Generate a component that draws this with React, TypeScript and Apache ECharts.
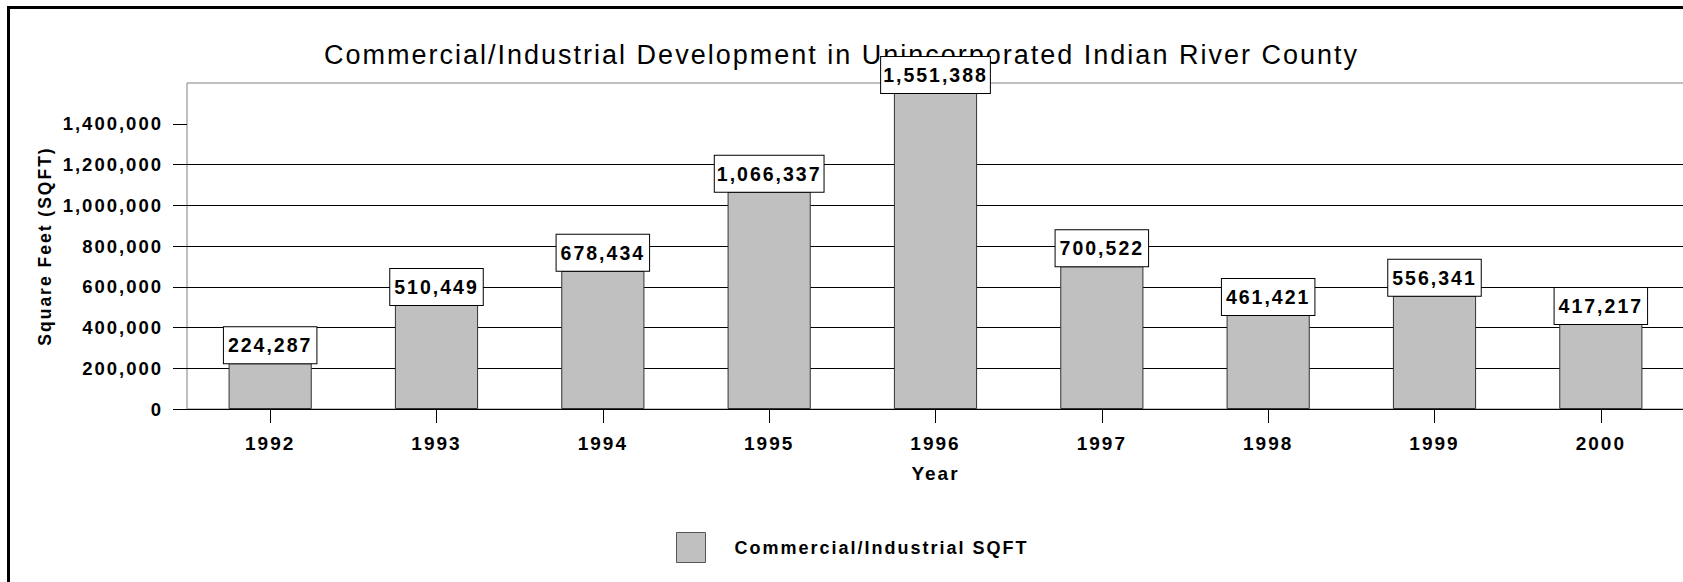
import React, { useEffect, useRef } from 'react';
import * as echarts from 'echarts';

const titleText = 'Commercial/Industrial Development in Unincorporated Indian River County';
const years = ['1992', '1993', '1994', '1995', '1996', '1997', '1998', '1999', '2000'];
const sqft = [224287, 510449, 678434, 1066337, 1551388, 700522, 461421, 556341, 417217];
const yTickValues = [0, 200000, 400000, 600000, 800000, 1000000, 1200000, 1400000];
const yMax = 1600000;
const yStep = 200000;
const seriesName = 'Commercial/Industrial SQFT';
const xName = 'Year';
const yName = 'Square Feet (SQFT)';

const FONT = '"Liberation Sans", Arial, Helvetica, sans-serif';
const fmt = (v: number) => Number(v).toLocaleString('en-US');

export default function App() {
  const ref = useRef<HTMLDivElement>(null);

  useEffect(() => {
    const chart = echarts.init(ref.current!, null, { renderer: 'svg' });
    chart.setOption({
      animation: false,
      backgroundColor: '#ffffff',
      textStyle: { fontFamily: FONT },
      title: {
        text: titleText,
        left: 'center',
        top: 41,
        padding: 0,
        textStyle: { fontFamily: FONT, fontSize: 27, fontWeight: 'normal', color: '#000' },
      },
      legend: {
        left: 676,
        top: 532,
        padding: 0,
        icon: 'rect',
        itemWidth: 29,
        itemHeight: 30,
        itemStyle: { color: '#c0c0c0', borderColor: '#555', borderWidth: 1 },
        textStyle: {
          fontFamily: FONT,
          fontSize: 18,
          fontWeight: 'bold',
          color: '#000',
          padding: [0, 0, 0, 24],
        },
        data: [seriesName],
      },
      grid: {
        left: 187,
        right: -1,
        top: 83,
        bottom: 173,
        show: true,
        borderColor: '#808080',
        borderWidth: 1,
        backgroundColor: 'transparent',
        containLabel: false,
        outerBoundsMode: 'none',
      },
      xAxis: {
        type: 'category',
        data: years,
        name: xName,
        nameLocation: 'middle',
        nameGap: 55,
        nameTextStyle: { fontFamily: FONT, fontSize: 19, fontWeight: 'bold', color: '#000' },
        axisLine: { show: true, lineStyle: { color: '#000', width: 1 } },
        axisTick: { show: true, alignWithLabel: true, length: 14, lineStyle: { color: '#000' } },
        axisLabel: { margin: 25, fontFamily: FONT, fontSize: 19, fontWeight: 'bold', color: '#000' },
        splitLine: { show: false },
      },
      yAxis: {
        type: 'value',
        min: 0,
        max: yMax,
        interval: yStep,
        name: yName,
        nameLocation: 'middle',
        nameGap: 133,
        nameRotate: 90,
        nameTextStyle: { fontFamily: FONT, fontSize: 17.5, fontWeight: 'bold', color: '#000' },
        axisLine: { show: false },
        axisTick: { show: true, length: 14, lineStyle: { color: '#000' }, customValues: yTickValues },
        axisLabel: {
          margin: 24,
          fontFamily: FONT,
          fontSize: 18.5,
          fontWeight: 'bold',
          color: '#000',
          customValues: yTickValues,
          formatter: (v: number) => (v >= yMax ? '' : fmt(v)),
        },
        splitLine: { show: true, showMaxLine: false, lineStyle: { color: '#000', width: 1 } },
      },
      series: [
        {
          type: 'bar',
          name: seriesName,
          data: sqft,
          barWidth: '50%',
          z: 7,
          itemStyle: { color: '#c0c0c0', borderColor: '#333', borderWidth: 1 },
          label: {
            show: true,
            position: 'top',
            distance: 0,
            formatter: (p: any) => fmt(p.value),
            fontFamily: FONT,
            fontSize: 19.5,
            fontWeight: 'bold',
            color: '#000',
            backgroundColor: '#fff',
            borderColor: '#000',
            borderWidth: 1,
            lineHeight: 20,
            padding: [8, 11, 8, 11],
          },
        },
      ],
      graphic: [
        {
          type: 'rect',
          z: 100,
          silent: true,
          shape: { x: 8.5, y: 7.5, width: 1700, height: 600 },
          style: { fill: 'none', stroke: '#000', lineWidth: 3 },
        },
      ],
    });
    return () => chart.dispose();
  }, []);

  return (
    <div
      ref={ref}
      style={{
        position: 'fixed',
        left: 0,
        top: 0,
        width: 1683,
        height: 582,
        letterSpacing: '2px',
        background: '#fff',
      }}
    />
  );
}
